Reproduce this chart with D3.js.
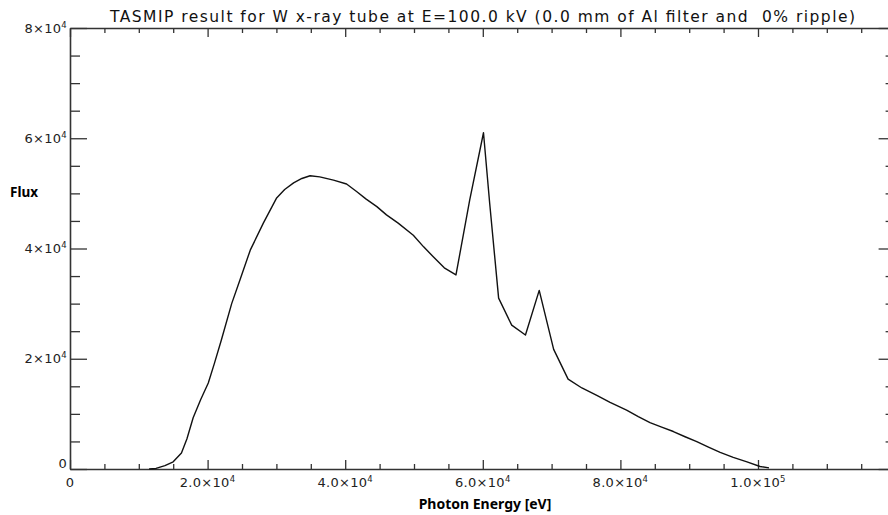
<!DOCTYPE html>
<html>
<head>
<meta charset="utf-8">
<script src="https://cdn.jsdelivr.net/npm/d3@7"></script>
<style>
  html, body { margin: 0; padding: 0; background: #fff; }
  svg { display: block; }
  text { white-space: pre; }
</style>
</head>
<body>
<svg id="chart" width="888" height="515"></svg>
<script>
// ---------------- data ----------------
const titleText = "TASMIP result for W x-ray tube at E=100.0 kV (0.0 mm of Al filter and  0% ripple)";
const xLabelText = "Photon Energy [eV]";
const yLabelText = "Flux";

const energy = [11500, 12500, 13800, 15000, 16200, 17000, 17900, 19000, 20100, 21000,
  22000, 23500, 24700, 26200, 28100, 30000, 31200, 32500, 33700, 34900,
  36300, 38300, 40200, 41700, 43000, 44600, 46000, 47700, 49900, 51400,
  52800, 54400, 56100, 58100, 60100, 61000, 62300, 64200, 66200, 68200,
  70300, 72400, 74400, 76500, 78500, 80900, 82600, 84300, 86000, 87700,
  89400, 91100, 92800, 94500, 96400, 98400, 100300, 101600];
const flux = [0, 100, 600, 1300, 2900, 5500, 9300, 12600, 15600, 19200,
  23400, 30000, 34300, 39700, 44600, 49100, 50700, 51900, 52700, 53200,
  53000, 52400, 51700, 50300, 49000, 47600, 46100, 44600, 42400, 40300,
  38500, 36500, 35200, 48800, 61000, 48200, 31000, 26100, 24300, 32400,
  21700, 16300, 14700, 13400, 12100, 10700, 9500, 8400, 7600, 6800,
  5850, 4950, 3950, 3000, 2100, 1300, 450, 200];

const xMajorTicks = [0, 20000, 40000, 60000, 80000, 100000];
const xTickMantissa = ["0", "2.0", "4.0", "6.0", "8.0", "1.0"];
const xTickExponent = ["", "4", "4", "4", "4", "5"];
const xMinorStep = 5000;
const xDomain = [0, 120000];

const yMajorTicks = [0, 20000, 40000, 60000, 80000];
const yTickMantissa = ["0", "2", "4", "6", "8"];
const yTickExponent = ["", "4", "4", "4", "4"];
const yMinorStep = 5000;
const yDomain = [0, 80000];

// ---------------- layout ----------------
const mLeft = 70, mRight = 895.6, mTop = 28, mBottom = 469;
const svg = d3.select("#chart");
const x = d3.scaleLinear().domain(xDomain).range([mLeft, mRight]);
const y = d3.scaleLinear().domain(yDomain).range([mBottom, mTop]);

const xMinor = d3.range(xDomain[0], xDomain[1] + 1, xMinorStep).filter(v => !xMajorTicks.includes(v));
const yMinor = d3.range(yDomain[0], yDomain[1] + 1, yMinorStep).filter(v => !yMajorTicks.includes(v));

const axisColor = "#333";
function styleAxis(g) {
  g.selectAll("path.domain").attr("stroke", axisColor).attr("stroke-width", 1.6);
  g.selectAll(".tick line").attr("stroke", axisColor).attr("stroke-width", 1.3);
  g.selectAll(".tick text").remove();
}

// bottom
svg.append("g").attr("transform", `translate(0,${mBottom})`)
  .call(d3.axisBottom(x).tickValues(xMajorTicks).tickSize(-9).tickSizeOuter(0).tickFormat(""))
  .call(styleAxis);
svg.append("g").attr("transform", `translate(0,${mBottom})`)
  .call(d3.axisBottom(x).tickValues(xMinor).tickSize(-5).tickSizeOuter(0).tickFormat(""))
  .call(styleAxis).call(g => g.select("path.domain").remove());
// top
svg.append("g").attr("transform", `translate(0,${mTop})`)
  .call(d3.axisTop(x).tickValues(xMajorTicks).tickSize(-9).tickSizeOuter(0).tickFormat(""))
  .call(styleAxis);
svg.append("g").attr("transform", `translate(0,${mTop})`)
  .call(d3.axisTop(x).tickValues(xMinor).tickSize(-5).tickSizeOuter(0).tickFormat(""))
  .call(styleAxis).call(g => g.select("path.domain").remove());
// left
svg.append("g").attr("transform", `translate(${mLeft},0)`)
  .call(d3.axisLeft(y).tickValues(yMajorTicks).tickSize(-17).tickSizeOuter(0).tickFormat(""))
  .call(styleAxis);
svg.append("g").attr("transform", `translate(${mLeft},0)`)
  .call(d3.axisLeft(y).tickValues(yMinor).tickSize(-10).tickSizeOuter(0).tickFormat(""))
  .call(styleAxis).call(g => g.select("path.domain").remove());
// right
svg.append("g").attr("transform", `translate(${mRight},0)`)
  .call(d3.axisRight(y).tickValues(yMajorTicks).tickSize(-17).tickSizeOuter(0).tickFormat(""))
  .call(styleAxis);
svg.append("g").attr("transform", `translate(${mRight},0)`)
  .call(d3.axisRight(y).tickValues(yMinor).tickSize(-10).tickSizeOuter(0).tickFormat(""))
  .call(styleAxis).call(g => g.select("path.domain").remove());

// tick labels
const labFont = "'DejaVu Sans', 'Liberation Sans', sans-serif";
function addLabel(g, mant, exp) {
  g.append("tspan").text(exp ? mant + "\u00D710" : mant);
  if (exp) g.append("tspan").attr("dy", -5).attr("font-size", 8.5).text(exp);
}
xMajorTicks.forEach((v, i) => {
  const t = svg.append("text")
    .attr("x", x(v)).attr("y", 487)
    .attr("text-anchor", "middle")
    .attr("font-family", labFont).attr("font-size", 13)
    .attr("letter-spacing", 0.3)
    .attr("fill", "#222");
  addLabel(t, xTickMantissa[i], xTickExponent[i]);
});
yMajorTicks.forEach((v, i) => {
  const t = svg.append("text")
    .attr("x", 67).attr("y", y(v) + (yTickExponent[i] ? 4.5 : -1))
    .attr("text-anchor", "end")
    .attr("font-family", labFont).attr("font-size", 13)
    .attr("letter-spacing", 0.3)
    .attr("fill", "#222");
  addLabel(t, yTickMantissa[i], yTickExponent[i]);
});

// curve
const line = d3.line().x((d, i) => x(energy[i])).y(d => y(d));
svg.append("path")
  .datum(flux)
  .attr("d", line)
  .attr("fill", "none")
  .attr("stroke", "#111")
  .attr("stroke-width", 1.4)
  .attr("stroke-linejoin", "round");

// title & axis titles
svg.append("text")
  .attr("x", 110).attr("y", 22)
  .attr("font-family", labFont).attr("font-size", 15.5)
  .attr("textLength", 745).attr("lengthAdjust", "spacing")
  .attr("fill", "#111")
  .text(titleText);

svg.append("text")
  .attr("x", 485).attr("y", 509)
  .attr("text-anchor", "middle")
  .attr("font-family", "'Noto Sans', 'Open Sans', sans-serif")
  .attr("font-weight", "bold").attr("font-size", 14)
  .attr("fill", "#000")
  .text(xLabelText);

svg.append("text")
  .attr("x", 10).attr("y", 197)
  .attr("font-family", "'Noto Sans', 'Open Sans', sans-serif")
  .attr("font-weight", "bold").attr("font-size", 13.5)
  .attr("fill", "#000")
  .text(yLabelText);
</script>
</body>
</html>
